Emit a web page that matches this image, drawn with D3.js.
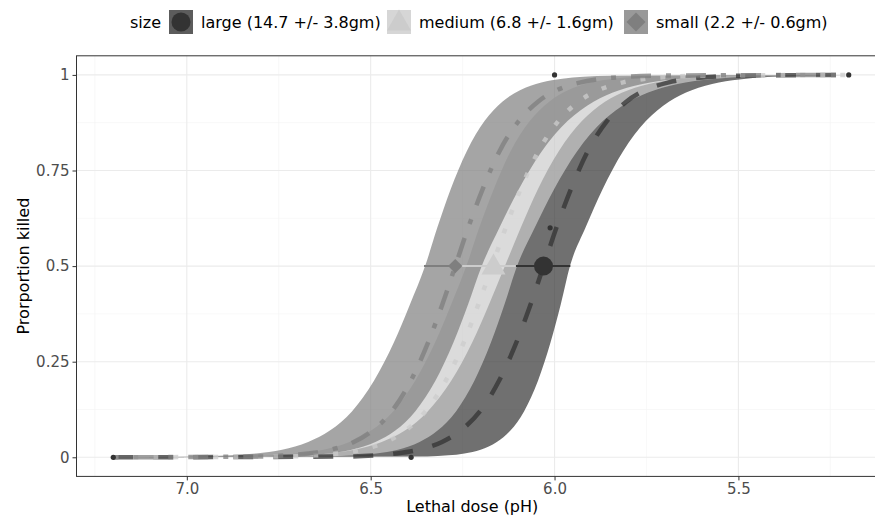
<!DOCTYPE html>
<html>
<head>
<meta charset="utf-8">
<script src="https://cdn.jsdelivr.net/npm/d3@7"></script>
<style>
  body { margin: 0; background: #fff; }
  svg { display: block; font-family: "DejaVu Sans", sans-serif; }
</style>
</head>
<body>
<svg id="chart" width="875" height="517"></svg>
<script>
const pLevels = [0, 0.002, 0.005, 0.01, 0.02, 0.04, 0.07, 0.12, 0.2, 0.3, 0.4, 0.5,
                 0.6, 0.7, 0.8, 0.88, 0.93, 0.96, 0.98, 0.99, 0.995, 0.998, 1];

// pH of fitted curve and ribbon edges (upper = left edge, lower = right edge)
const largeFit   = [7.2, 6.570, 6.490, 6.430, 6.368, 6.306, 6.255, 6.203, 6.151, 6.104, 6.065, 6.030,
                    5.995, 5.956, 5.910, 5.857, 5.805, 5.754, 5.692, 5.630, 5.570, 5.490, 5.2];
const largeUpper = [7.2, 6.789, 6.692, 6.619, 6.545, 6.470, 6.407, 6.345, 6.281, 6.224, 6.178, 6.135,
                    6.092, 6.046, 5.989, 5.925, 5.863, 5.800, 5.725, 5.651, 5.578, 5.481, 5.2];
const largeLower = [7.2, 6.346, 6.289, 6.245, 6.201, 6.157, 6.120, 6.083, 6.045, 6.011, 5.983, 5.958,
                    5.916, 5.870, 5.814, 5.751, 5.689, 5.627, 5.553, 5.479, 5.407, 5.311, 5.2];

const mediumFit   = [7.2, 6.735, 6.651, 6.588, 6.524, 6.459, 6.405, 6.351, 6.296, 6.247, 6.207, 6.170,
                     6.133, 6.093, 6.044, 5.989, 5.935, 5.881, 5.816, 5.752, 5.689, 5.605, 5.2];
const mediumUpper = [7.2, 6.861, 6.769, 6.700, 6.629, 6.558, 6.499, 6.439, 6.379, 6.325, 6.281, 6.240,
                     6.205, 6.166, 6.120, 6.067, 6.015, 5.964, 5.902, 5.840, 5.780, 5.700, 5.2];
const mediumLower = [7.2, 6.620, 6.543, 6.485, 6.426, 6.367, 6.318, 6.268, 6.218, 6.173, 6.136, 6.102,
                     6.054, 6.002, 5.939, 5.868, 5.798, 5.728, 5.644, 5.561, 5.479, 5.371, 5.2];

const smallFit   = [7.2, 6.810, 6.730, 6.670, 6.608, 6.546, 6.495, 6.443, 6.391, 6.344, 6.305, 6.270,
                    6.235, 6.196, 6.150, 6.097, 6.045, 5.994, 5.932, 5.870, 5.810, 5.730, 5.2];
const smallUpper = [7.2, 6.973, 6.881, 6.812, 6.741, 6.670, 6.611, 6.551, 6.491, 6.437, 6.393, 6.352,
                    6.319, 6.283, 6.239, 6.190, 6.142, 6.094, 6.036, 5.979, 5.922, 5.847, 5.2];
const smallLower = [7.2, 6.763, 6.679, 6.616, 6.552, 6.487, 6.433, 6.379, 6.324, 6.275, 6.235, 6.198,
                    6.150, 6.098, 6.035, 5.964, 5.894, 5.824, 5.740, 5.657, 5.575, 5.467, 5.2];

// LD50 estimate and its interval (pH)
const groups = ["large", "medium", "small"];
const labels = ["large (14.7 +/- 3.8gm)", "medium (6.8 +/- 1.6gm)", "small (2.2 +/- 0.6gm)"];
const ld50   = [6.030, 6.166, 6.270];
const ld50Lo = [6.105, 6.270, 6.355];
const ld50Hi = [5.957, 6.090, 6.190];

// observed proportions
const obsDose = [7.2, 6.39, 6.012, 6.0, 5.2];
const obsProp = [0, 0, 0.6, 1, 1];

const xTicks = [7.0, 6.5, 6.0, 5.5];
const xMinor = [7.25, 6.75, 6.25, 5.75, 5.25];
const yTicks = [0, 0.25, 0.5, 0.75, 1];
const yMinor = [0.125, 0.375, 0.625, 0.875];

const fills  = {large: "#333333", medium: "#cccccc", small: "#7f7f7f"};
const dashes = {large: "20,20", medium: "5,15", small: "5,15,20,15"};
const fitOf   = {large: largeFit, medium: mediumFit, small: smallFit};
const upperOf = {large: largeUpper, medium: mediumUpper, small: smallUpper};
const lowerOf = {large: largeLower, medium: mediumLower, small: smallLower};

const svg = d3.select("#chart");
const pLeft = 76.5, pRight = 885.5, pTop = 55.8, pBottom = 476.4;

const x = d3.scaleLinear().domain([7.3, 5.1]).range([pLeft, pRight]);
const y = d3.scaleLinear().domain([-0.05, 1.05]).range([pBottom, pTop]);

svg.append("clipPath").attr("id", "panel")
  .append("rect").attr("x", pLeft).attr("y", pTop)
  .attr("width", pRight - pLeft).attr("height", pBottom - pTop);

// grid
const grid = svg.append("g");
grid.selectAll(".xm").data(xMinor).enter().append("line")
  .attr("x1", d => x(d)).attr("x2", d => x(d)).attr("y1", pTop).attr("y2", pBottom)
  .attr("stroke", "#f4f4f4").attr("stroke-width", 0.6);
grid.selectAll(".ym").data(yMinor).enter().append("line")
  .attr("y1", d => y(d)).attr("y2", d => y(d)).attr("x1", pLeft).attr("x2", pRight)
  .attr("stroke", "#f4f4f4").attr("stroke-width", 0.6);
grid.selectAll(".xg").data(xTicks).enter().append("line")
  .attr("x1", d => x(d)).attr("x2", d => x(d)).attr("y1", pTop).attr("y2", pBottom)
  .attr("stroke", "#ebebeb").attr("stroke-width", 1.1);
grid.selectAll(".yg").data(yTicks).enter().append("line")
  .attr("y1", d => y(d)).attr("y2", d => y(d)).attr("x1", pLeft).attr("x2", pRight)
  .attr("stroke", "#ebebeb").attr("stroke-width", 1.1);

const plot = svg.append("g").attr("clip-path", "url(#panel)");

// ribbons: left edge forwards, right edge back
const edge = d3.line().x(d => x(d.dose)).y(d => y(d.p)).curve(d3.curveMonotoneX);
groups.forEach(g => {
  const up = pLevels.map((p, i) => ({p: p, dose: upperOf[g][i]}));
  const lo = pLevels.map((p, i) => ({p: p, dose: lowerOf[g][i]})).reverse();
  plot.append("path")
    .attr("d", edge(up) + edge(lo).replace(/^M/, "L") + "Z")
    .attr("fill", fills[g]).attr("fill-opacity", 0.7);
});

// fitted curves
groups.forEach(g => {
  const rows = pLevels.map((p, i) => ({p: p, dose: fitOf[g][i]}));
  plot.append("path").datum(rows)
    .attr("d", edge)
    .attr("fill", "none").attr("stroke", fills[g]).attr("stroke-opacity", 0.75)
    .attr("stroke-width", 4.5).attr("stroke-dasharray", dashes[g]);
});

// observed points
plot.selectAll(".obs").data(obsDose).enter().append("circle")
  .attr("cx", d => x(d)).attr("cy", (d, i) => y(obsProp[i])).attr("r", 2.6)
  .attr("fill", "#333");

// LD50 intervals, small first so medium and large sit on top
[2, 1, 0].forEach(i => {
  plot.append("line")
    .attr("x1", x(ld50Lo[i])).attr("x2", x(ld50Hi[i]))
    .attr("y1", y(0.5)).attr("y2", y(0.5))
    .attr("stroke", fills[groups[i]]).attr("stroke-width", 2);
});

function marker(sel, g, cx, cy, big) {
  if (g === "large") {
    sel.append("circle").attr("cx", cx).attr("cy", cy).attr("r", 9.5).attr("fill", fills.large);
  } else if (g === "medium") {
    const w = 12, h = 21;
    sel.append("path")
      .attr("d", `M${cx - w},${cy + h * 0.4}L${cx + w},${cy + h * 0.4}L${cx},${cy - h * 0.6}Z`)
      .attr("fill", fills.medium);
  } else {
    const r = big ? 9.5 : 7.2;
    sel.append("path")
      .attr("d", `M${cx},${cy - r}L${cx + r},${cy}L${cx},${cy + r}L${cx - r},${cy}Z`)
      .attr("fill", fills.small);
  }
}
[2, 1, 0].forEach(i => marker(plot, groups[i], x(ld50[i]), y(0.5), false));

// panel border
svg.append("rect").attr("x", pLeft).attr("y", pTop)
  .attr("width", pRight - pLeft).attr("height", pBottom - pTop)
  .attr("fill", "none").attr("stroke", "#333").attr("stroke-width", 1);

// axes
const xAxis = svg.append("g").attr("transform", `translate(0,${pBottom})`)
  .call(d3.axisBottom(x).tickValues(xTicks).tickFormat(d3.format(".1f")).tickSize(4).tickPadding(3));
const yAxis = svg.append("g").attr("transform", `translate(${pLeft},0)`)
  .call(d3.axisLeft(y).tickValues(yTicks).tickFormat(d => String(d)).tickSize(4).tickPadding(3));
[xAxis, yAxis].forEach(a => {
  a.select(".domain").remove();
  a.selectAll(".tick line").attr("stroke", "#333");
  a.selectAll(".tick text").attr("fill", "#4d4d4d").style("font-size", "15px")
    .style("font-family", "DejaVu Sans, sans-serif");
});

svg.append("text").attr("x", (pLeft + 868) / 2).attr("y", 512)
  .attr("text-anchor", "middle").style("font-size", "16px").text("Lethal dose (pH)");
svg.append("text").attr("transform", `translate(29,${(pTop + pBottom) / 2}) rotate(-90)`)
  .attr("text-anchor", "middle").style("font-size", "16px").text("Prorportion killed");

// legend
const leg = svg.append("g");
leg.append("text").attr("x", 130).attr("y", 28).style("font-size", "16px").text("size");
const keyX = [169, 387, 624];
groups.forEach((g, i) => {
  leg.append("rect").attr("x", keyX[i]).attr("y", 10).attr("width", 24).attr("height", 24)
    .attr("fill", fills[g]).attr("fill-opacity", 0.8);
  marker(leg, g, keyX[i] + 12, 22, true);
  leg.append("text").attr("x", keyX[i] + 32).attr("y", 28).style("font-size", "16px").text(labels[i]);
});
</script>
</body>
</html>
